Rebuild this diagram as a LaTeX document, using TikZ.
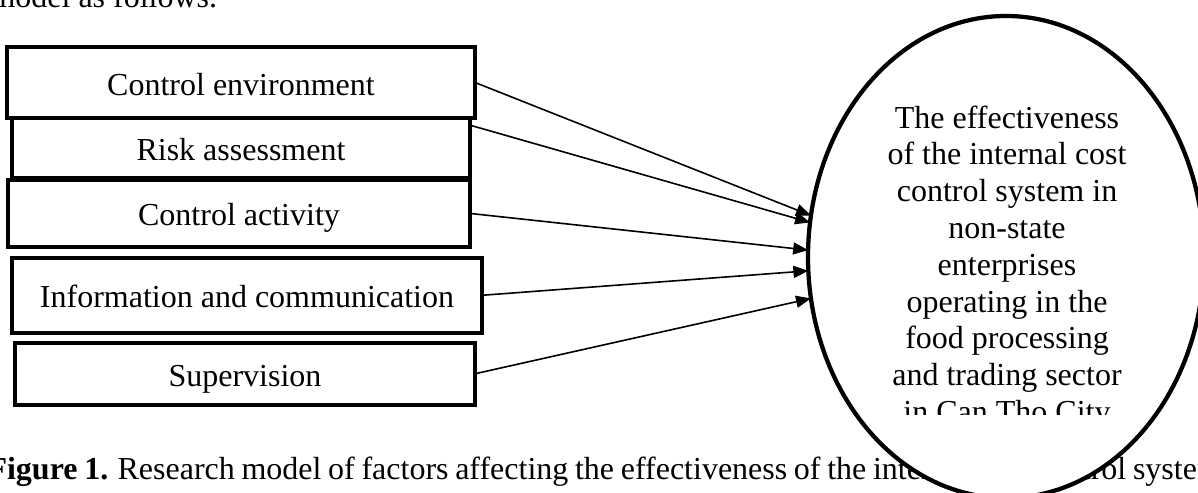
\documentclass[tikz,border=0pt]{standalone}
\usepackage{fontspec}
\setmainfont{Liberation Serif}
\usetikzlibrary{shapes.geometric, arrows.meta, positioning, calc}

\begin{document}
\begin{tikzpicture}[x=0.375pt, y=-0.375pt, font=\fontsize{12}{13.8}\selectfont]
\tikzstyle{factorbox} = [rectangle, draw=black, line width=1.5pt, inner sep=0pt, outer sep=0pt, text height=9.4pt, text depth=0pt, text centered]
\tikzstyle{goalshape} = [ellipse, draw=black, line width=1.6pt, fill=white, minimum width=148.5pt, minimum height=180.75pt, inner sep=0pt, outer sep=0pt]
\tikzstyle{effect} = [-{Triangle[length=5.6pt, width=4.5pt]}, line width=0.6pt]

\useasboundingbox (0,0) rectangle (1198,493);

% page text around the figure
\node (before) [anchor=base west, inner sep=0pt] at (-10,8) {model as follows.};
\node (caption) [anchor=base west, inner sep=0pt] at (-13,480) {\spaceskip=2.5pt\relax\textbf{Figure 1.} Research model of factors affecting the effectiveness of the internal cost control system};

% factors
\node (cenv) [factorbox, minimum width=175.5pt, minimum height=26.6pt] at (241,82.5) {Control environment};
\node (risk) [factorbox, minimum width=171.75pt, minimum height=22.5pt, below=0pt of cenv] {Risk assessment};
\node (ctrl) [factorbox, minimum width=173.25pt, minimum height=25.1pt, below=0.75pt of risk, xshift=-0.75pt] {Control activity};
\node (info) [factorbox, minimum width=176.25pt, minimum height=28.1pt, below=4.1pt of ctrl, xshift=3pt] {Information and communication};
\node (superv) [factorbox, minimum width=172.5pt, minimum height=23.25pt, below=3.75pt of info, xshift=-0.75pt] {Supervision};

% effectiveness
\node (goal) [goalshape] at (1006,257) {};
\begin{scope}
\clip (800,0) rectangle (1198,415);
\node (goaltext) [anchor=north, inner sep=0pt, align=center] at (1007,105) {The effectiveness\\of the internal cost\\control system in\\non-state\\enterprises\\operating in the\\food processing\\and trading sector\\in Can Tho City};
\end{scope}

% arrows
\draw [effect] (cenv.east) -- (goal.168);
\draw [effect] ($(risk.north east)!0.12!(risk.south east)$) -- (goal.170);
\draw [effect] (ctrl.east) -- (goal.178);
\draw [effect] (info.east) -- (goal.184);
\draw [effect] (superv.east) -- (goal.192);

\end{tikzpicture}
\end{document}
